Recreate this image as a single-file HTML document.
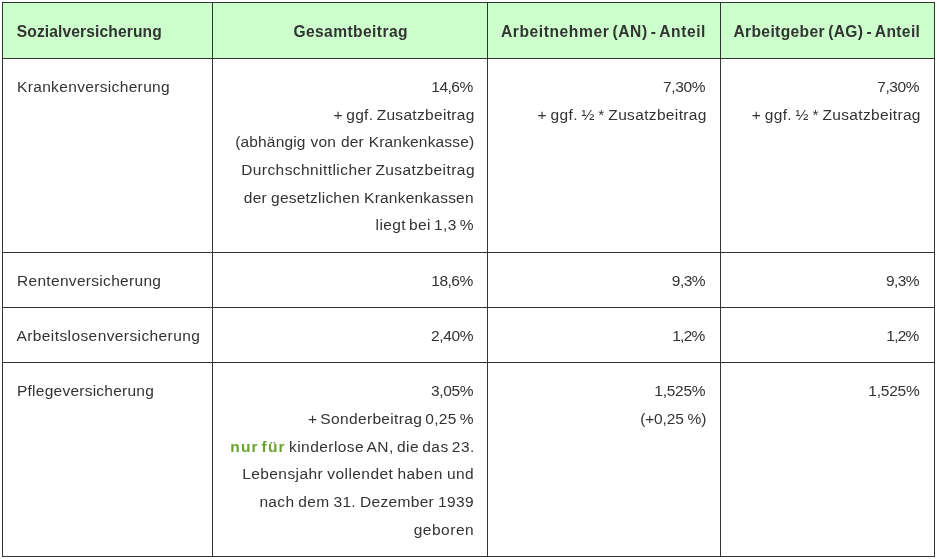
<!DOCTYPE html>
<html lang="de">
<head>
<meta charset="utf-8">
<title>Sozialversicherung – Beitragssätze</title>
<style>
html,body{margin:0;padding:0;background:#fff}
body{width:937px;height:559px;overflow:hidden;position:relative;font-family:"Liberation Sans",sans-serif;font-size:15.5px;line-height:27.72px;color:#333}
table{position:absolute;left:2px;top:2px;width:933px;border-collapse:collapse;border-spacing:0;table-layout:fixed}
th,td{box-sizing:border-box;border:1px solid #333;padding:0 13.3px 0 13.5px;vertical-align:top;text-align:right;white-space:nowrap;font-weight:400}
th{background:#cfc;font-weight:700;font-size:15.6px;text-align:center;padding-left:0;padding-right:0}
th:first-child,td:first-child{text-align:left;padding-left:13.5px}
p{margin:0;height:27.72px}
b{font-weight:700;color:#6aa32d}
.r0>*{padding-top:14.6px}
.r1>*{padding-top:13.85px}
.r2>*{padding-top:14px}
.r3>*{padding-top:14px}
.r4>*{padding-top:14.2px}
</style>
</head>
<body>
<table>
<colgroup><col style="width:210px"><col style="width:275px"><col style="width:233px"><col style="width:214px"></colgroup>
<thead>
<tr class="r0" style="height:56px">
<th><p style="letter-spacing:0.12px;margin-left:0.238px">Sozialversicherung</p></th>
<th><p style="letter-spacing:0.414px;margin-left:1.406px">Gesamtbeitrag</p></th>
<th><p style="letter-spacing:0.585px;word-spacing:-1.772px;margin-left:-1.057px">Arbeitnehmer (AN) - Anteil</p></th>
<th><p style="letter-spacing:0.371px;word-spacing:-1.524px;margin-left:-1.309px">Arbeitgeber (AG) - Anteil</p></th>
</tr>
</thead>
<tbody>
<tr class="r1" style="height:194px">
<td><p style="letter-spacing:0.345px;margin-left:0.509px">Krankenversicherung</p></td>
<td><p style="letter-spacing:-0.511px;margin-right:1.007px">14,6%</p><p style="letter-spacing:0.317px;word-spacing:-1.3px;margin-right:-0.97px">+ ggf. Zusatzbeitrag</p><p style="letter-spacing:0.171px;word-spacing:0.406px;margin-right:-0.633px">(abhängig von der Krankenkasse)</p><p style="letter-spacing:0.431px;word-spacing:-1.415px;margin-right:-1.242px">Durchschnittlicher Zusatzbeitrag</p><p style="letter-spacing:0.223px;word-spacing:-0.352px;margin-right:-0.12px">der gesetzlichen Krankenkassen</p><p style="letter-spacing:0.413px;word-spacing:-1.741px;margin-right:-0.223px">liegt bei 1,3 %</p></td>
<td><p style="letter-spacing:-0.361px;margin-right:1.507px">7,30%</p><p style="letter-spacing:0.346px;word-spacing:-1.047px;margin-right:-0.037px">+ ggf. ½ * Zusatzbeitrag</p></td>
<td><p style="letter-spacing:-0.361px;margin-right:1.407px">7,30%</p><p style="letter-spacing:0.346px;word-spacing:-1.047px;margin-right:-0.137px">+ ggf. ½ * Zusatzbeitrag</p></td>
</tr>
<tr class="r2" style="height:55px">
<td><p style="letter-spacing:0.308px;margin-left:0.518px">Rentenversicherung</p></td>
<td><p style="letter-spacing:-0.511px;margin-right:1.007px">18,6%</p></td>
<td><p style="letter-spacing:-0.544px;margin-right:1.702px">9,3%</p></td>
<td><p style="letter-spacing:-0.544px;margin-right:1.602px">9,3%</p></td>
</tr>
<tr class="r3" style="height:55px">
<td><p style="letter-spacing:0.405px;margin-left:0.015px">Arbeitslosenversicherung</p></td>
<td><p style="letter-spacing:-0.361px;margin-right:0.607px">2,40%</p></td>
<td><p style="letter-spacing:-0.744px;margin-right:2.152px">1,2%</p></td>
<td><p style="letter-spacing:-0.744px;margin-right:2.052px">1,2%</p></td>
</tr>
<tr class="r4" style="height:194px">
<td><p style="letter-spacing:0.24px;margin-left:0.509px">Pflegeversicherung</p></td>
<td><p style="letter-spacing:-0.361px;margin-right:0.607px">3,05%</p><p style="letter-spacing:0.344px;word-spacing:-1.683px;margin-right:-0.115px">+ Sonderbeitrag 0,25 %</p><p style="letter-spacing:0.451px;word-spacing:-1.506px;margin-right:-1.085px"><b style="letter-spacing:1.154px;word-spacing:-2.623px">nur für</b> kinderlose AN, die das 23.</p><p style="letter-spacing:0.421px;word-spacing:-0.468px;margin-right:-0.364px">Lebensjahr vollendet haben und</p><p style="letter-spacing:0.335px;word-spacing:-0.685px;margin-right:-0.215px">nach dem 31. Dezember 1939</p><p style="letter-spacing:0.526px;margin-right:-0.533px">geboren</p></td>
<td><p style="letter-spacing:-0.254px;margin-right:1.403px">1,525%</p><p style="letter-spacing:-0.117px;word-spacing:-0.518px;margin-right:0.508px">(+0,25 %)</p></td>
<td><p style="letter-spacing:-0.254px;margin-right:1.303px">1,525%</p></td>
</tr>
</tbody>
</table>
</body>
</html>
